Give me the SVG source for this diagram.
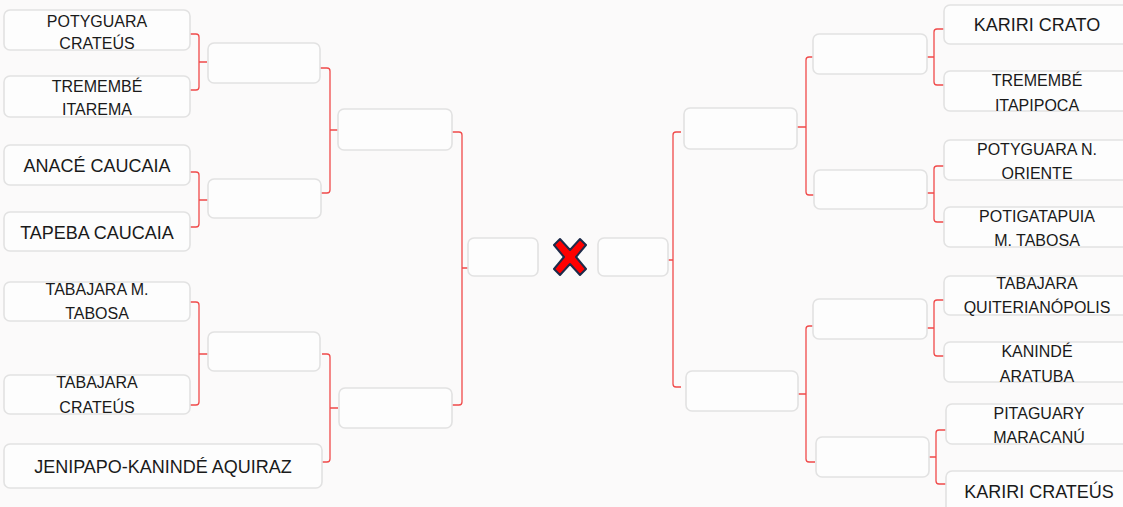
<svg xmlns="http://www.w3.org/2000/svg" width="1123" height="507" viewBox="0 0 1123 507">
<style>
.bx{fill:#fdfdfd;stroke:#e2e2e2;stroke-width:1.6}
.t{font-family:"Liberation Sans",Arial,sans-serif;fill:#1a1a1a;text-anchor:middle}
.s{font-size:16px}
.l{font-size:18px}
.c{fill:none;stroke:#f04a4a;stroke-width:1.3}
</style>
<rect width="1123" height="507" fill="#fbfafa"/>
<g id="connectors">
<path class="c" d="M190,34 h6 q3,0 3,3 V87 q0,3 -3,3 h-6 M199,62 h8"/>
<path class="c" d="M190,172 h6 q3,0 3,3 V224 q0,3 -3,3 h-6 M199,200 h9"/>
<path class="c" d="M190,302 h6 q3,0 3,3 V402 q0,3 -3,3 h-6 M199,354 h9"/>
<path class="c" d="M320,68 h7 q3,0 3,3 V190 q0,3 -3,3 h-6 M330,130 h8"/>
<path class="c" d="M322,354 h5 q3,0 3,3 V459 q0,3 -3,3 h-5 M330,408 h8"/>
<path class="c" d="M452,132 h7 q3,0 3,3 V402 q0,3 -3,3 h-7 M462,268 h8"/>
<path class="c" d="M681,132 h-5 q-3,0 -3,3 V384 q0,3 3,3 h5 M673,260 h-8"/>
<path class="c" d="M816,57 h-7 q-3,0 -3,3 V192 q0,3 3,3 h7 M806,127 h-9"/>
<path class="c" d="M815,326 h-6 q-3,0 -3,3 V459 q0,3 3,3 h6 M806,394 h-8"/>
<path class="c" d="M944,29 h-7 q-3,0 -3,3 V82 q0,3 3,3 h7 M934,57 h-7"/>
<path class="c" d="M944,166 h-7 q-3,0 -3,3 V219 q0,3 3,3 h7 M934,193 h-7"/>
<path class="c" d="M944,300 h-7 q-3,0 -3,3 V353 q0,3 3,3 h7 M934,328 h-7"/>
<path class="c" d="M946,430 h-7 q-3,0 -3,3 V481 q0,3 3,3 h7 M936,457 h-7"/>
</g>
<g id="n-potyguara-crateus"><rect class="bx" x="4" y="10" width="186" height="40" rx="6"/><text class="t s" x="97" y="27">POTYGUARA</text><text class="t s" x="97" y="49">CRATEÚS</text></g>
<g id="n-tremembe-itarema"><rect class="bx" x="4" y="76" width="186" height="41" rx="6"/><text class="t s" x="97" y="92">TREMEMBÉ</text><text class="t s" x="97" y="115">ITAREMA</text></g>
<g id="n-anace-caucaia"><rect class="bx" x="4" y="145" width="186" height="40" rx="6"/><text class="t l" x="97" y="172">ANACÉ CAUCAIA</text></g>
<g id="n-tapeba-caucaia"><rect class="bx" x="4" y="212" width="186" height="39" rx="6"/><text class="t l" x="97" y="239">TAPEBA CAUCAIA</text></g>
<g id="n-tabajara-mtabosa"><rect class="bx" x="4" y="282" width="186" height="39" rx="6"/><text class="t s" x="97" y="295">TABAJARA M.</text><text class="t s" x="97" y="319">TABOSA</text></g>
<g id="n-tabajara-crateus"><rect class="bx" x="4" y="375" width="186" height="39" rx="6"/><text class="t s" x="97" y="388">TABAJARA</text><text class="t s" x="97" y="413">CRATEÚS</text></g>
<g id="n-jenipapo"><rect class="bx" x="4" y="444" width="318" height="44" rx="6"/><text class="t l" x="163" y="473">JENIPAPO-KANINDÉ AQUIRAZ</text></g>
<g id="n-l2a"><rect class="bx" x="208" y="43" width="112" height="40" rx="6"/></g>
<g id="n-l2b"><rect class="bx" x="208" y="179" width="113" height="39" rx="6"/></g>
<g id="n-l2c"><rect class="bx" x="208" y="332" width="112" height="39" rx="6"/></g>
<g id="n-l3a"><rect class="bx" x="338" y="109" width="114" height="41" rx="6"/></g>
<g id="n-l3b"><rect class="bx" x="339" y="388" width="113" height="40" rx="6"/></g>
<g id="n-final-left"><rect class="bx" x="468" y="238" width="70" height="38" rx="6"/></g>
<g id="n-versus"><path d="M554,245 L560,239 L570,250 L580,239 L586,245 L576,257 L586,269 L580,275 L570,264 L560,275 L554,269 L564,257 Z" fill="#ff0000" stroke="#1e2b4a" stroke-width="2" stroke-linejoin="round"/></g>
<g id="n-final-right"><rect class="bx" x="598" y="238" width="70" height="38" rx="6"/></g>
<g id="n-r3a"><rect class="bx" x="684" y="108" width="113" height="41" rx="6"/></g>
<g id="n-r3b"><rect class="bx" x="686" y="371" width="112" height="40" rx="6"/></g>
<g id="n-r2a"><rect class="bx" x="813" y="34" width="114" height="40" rx="6"/></g>
<g id="n-r2b"><rect class="bx" x="814" y="170" width="113" height="39" rx="6"/></g>
<g id="n-r2c"><rect class="bx" x="813" y="299" width="114" height="40" rx="6"/></g>
<g id="n-r2d"><rect class="bx" x="816" y="437" width="113" height="40" rx="6"/></g>
<g id="n-kariri-crato"><rect class="bx" x="944" y="5" width="190" height="39" rx="6"/><text class="t l" x="1037" y="31">KARIRI CRATO</text></g>
<g id="n-tremembe-itapipoca"><rect class="bx" x="944" y="71" width="190" height="40" rx="6"/><text class="t s" x="1037" y="86">TREMEMBÉ</text><text class="t s" x="1037" y="111">ITAPIPOCA</text></g>
<g id="n-potyguara-noriente"><rect class="bx" x="944" y="140" width="190" height="40" rx="6"/><text class="t s" x="1037" y="155">POTYGUARA N.</text><text class="t s" x="1037" y="179">ORIENTE</text></g>
<g id="n-potigatapuia"><rect class="bx" x="944" y="207" width="190" height="40" rx="6"/><text class="t s" x="1037" y="222">POTIGATAPUIA</text><text class="t s" x="1037" y="246">M. TABOSA</text></g>
<g id="n-tabajara-quiterianopolis"><rect class="bx" x="944" y="276" width="190" height="39" rx="6"/><text class="t s" x="1037" y="289">TABAJARA</text><text class="t s" x="1037" y="313">QUITERIANÓPOLIS</text></g>
<g id="n-kaninde-aratuba"><rect class="bx" x="944" y="342" width="190" height="40" rx="6"/><text class="t s" x="1037" y="357">KANINDÉ</text><text class="t s" x="1037" y="382">ARATUBA</text></g>
<g id="n-pitaguary-maracanu"><rect class="bx" x="946" y="404" width="190" height="40" rx="6"/><text class="t s" x="1039" y="419">PITAGUARY</text><text class="t s" x="1039" y="443">MARACANÚ</text></g>
<g id="n-kariri-crateus"><rect class="bx" x="946" y="471" width="190" height="44" rx="6"/><text class="t l" x="1039" y="498">KARIRI CRATEÚS</text></g>
</svg>
